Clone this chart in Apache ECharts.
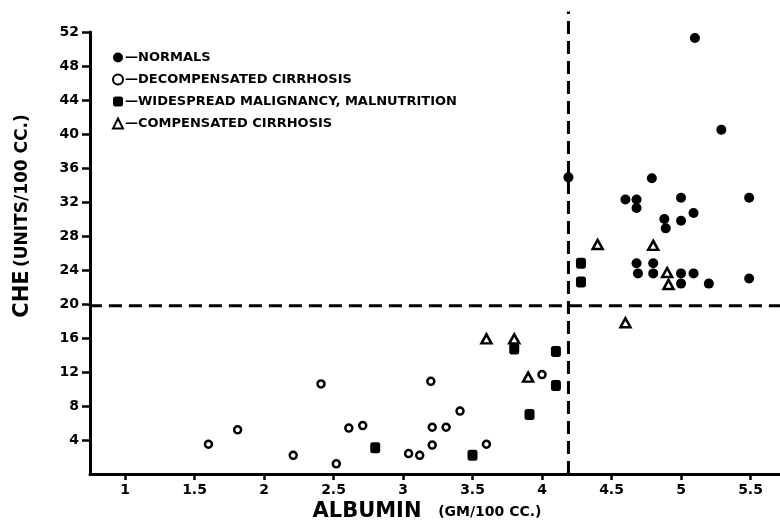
<!DOCTYPE html>
<html>
<head>
<meta charset="utf-8">
<script src="https://cdn.jsdelivr.net/npm/echarts@6/dist/echarts.min.js"></script>
<style>
  html, body { margin: 0; padding: 0; background: #fff; }
  #chart { width: 780px; height: 521px; }
</style>
</head>
<body>
<div id="chart"></div>
<script>
// ---- data (albumin gm/100cc, CHE units/100cc) ----
const seriesNames = [
  'NORMALS',
  'DECOMPENSATED CIRRHOSIS',
  'WIDESPREAD MALIGNANCY, MALNUTRITION',
  'COMPENSATED CIRRHOSIS'
];
const normals = [
  [5.1, 51.3], [5.29, 40.5], [4.19, 34.9], [4.79, 34.8], [4.6, 32.3], [4.68, 32.3],
  [4.68, 31.3], [5.0, 32.5], [5.49, 32.5], [5.09, 30.7], [4.88, 30.0], [5.0, 29.8],
  [4.89, 28.9], [4.68, 24.8], [4.8, 24.8], [4.69, 23.6], [4.8, 23.6], [5.0, 23.6],
  [5.09, 23.6], [5.0, 22.4], [5.2, 22.4], [5.49, 23.0]
];
const decompensated = [
  [1.6, 3.5], [1.81, 5.2], [2.21, 2.2], [2.41, 10.6], [2.52, 1.2], [2.61, 5.4],
  [2.71, 5.7], [3.04, 2.4], [3.12, 2.2], [3.21, 3.4], [3.21, 5.5], [3.31, 5.5],
  [3.41, 7.4], [3.2, 10.9], [3.6, 3.5], [4.0, 11.7]
];
const malignancy = [
  [4.28, 24.8], [4.28, 22.6], [3.8, 14.7], [4.1, 14.4], [4.1, 10.4], [3.91, 7.0],
  [3.5, 2.2], [2.8, 3.1]
];
const compensated = [
  [4.4, 27.0], [4.8, 26.9], [4.9, 23.7], [4.91, 22.3], [4.6, 17.8], [3.6, 15.9],
  [3.8, 15.9], [3.9, 11.4]
];
const xTicks = [1, 1.5, 2, 2.5, 3, 3.5, 4, 4.5, 5, 5.5];
const yTicks = [4, 8, 12, 16, 20, 24, 28, 32, 36, 40, 44, 48, 52];
const albuminCut = 4.19;
const cheCut = 19.8;
const vLineTop = 54.4;

const FONT = 'DejaVu Sans';
const INK = '#000';

const chart = echarts.init(document.getElementById('chart'), null, { renderer: 'canvas' });

const option = {
  backgroundColor: '#fff',
  animation: false,
  grid: { left: 90, right: 0, top: 32, bottom: 47, containLabel: false },
  legend: {
    orient: 'vertical',
    left: 107,
    top: 46,
    itemWidth: 10,
    itemHeight: 10,
    itemGap: 9,
    data: seriesNames,
    formatter: n => '\u2014' + n,
    textStyle: { fontFamily: FONT, fontWeight: 'bold', fontSize: 13, color: INK, padding: [0, 0, 0, -3] }
  },
  xAxis: {
    type: 'value',
    min: 0.748,
    max: 5.712,
    splitLine: { show: false },
    axisLine: { show: true, onZero: false, lineStyle: { color: INK, width: 3 } },
    axisTick: { show: true, customValues: xTicks, length: 6, lineStyle: { color: INK, width: 2.5 } },
    axisLabel: {
      customValues: xTicks,
      margin: 9,
      formatter: v => String(v),
      fontFamily: FONT, fontWeight: 'bold', fontSize: 14, color: INK
    }
  },
  yAxis: {
    type: 'value',
    min: 0,
    max: 52,
    splitLine: { show: false },
    axisLine: { show: true, onZero: false, lineStyle: { color: INK, width: 3 } },
    axisTick: { show: true, customValues: yTicks, length: 8, lineStyle: { color: INK, width: 2.5 } },
    axisLabel: {
      customValues: yTicks,
      margin: 11,
      fontFamily: FONT, fontWeight: 'bold', fontSize: 14, color: INK
    }
  },
  graphic: [
    {
      type: 'text',
      x: 23, y: 216,
      rotation: Math.PI / 2,
      style: {
        text: '{a|CHE} {b|(UNITS/100 CC.)}',
        align: 'center',
        verticalAlign: 'middle',
        fill: INK,
        rich: {
          a: { fontFamily: FONT, fontWeight: 'bold', fontSize: 21, fill: INK },
          b: { fontFamily: FONT, fontWeight: 'bold', fontSize: 17, fill: INK }
        }
      }
    },
    {
      type: 'text',
      x: 427, y: 512,
      style: {
        text: '{a|ALBUMIN}     {b|(GM/100 CC.)}',
        align: 'center',
        verticalAlign: 'middle',
        fill: INK,
        rich: {
          a: { fontFamily: FONT, fontWeight: 'bold', fontSize: 21, fill: INK },
          b: { fontFamily: FONT, fontWeight: 'bold', fontSize: 14, fill: INK }
        }
      }
    }
  ],
  series: [
    {
      name: 'cut-albumin', type: 'line', clip: false, silent: true, symbol: 'none',
      data: [[albuminCut, 0], [albuminCut, vLineTop]],
      lineStyle: { color: INK, width: 3, type: [13, 7] }
    },
    {
      name: 'cut-che', type: 'line', clip: false, silent: true, symbol: 'none',
      data: [[0.74, cheCut], [5.712, cheCut]],
      lineStyle: { color: INK, width: 3, type: [13, 7] }
    },
    {
      name: seriesNames[0], type: 'scatter', data: normals,
      symbol: 'circle', symbolSize: 10,
      itemStyle: { color: INK, opacity: 1 }
    },
    {
      name: seriesNames[1], type: 'scatter', data: decompensated,
      symbol: 'circle', symbolSize: 7,
      itemStyle: { color: '#fff', borderColor: INK, borderWidth: 2.5, opacity: 1 }
    },
    {
      name: seriesNames[2], type: 'scatter', data: malignancy,
      symbol: 'roundRect', symbolSize: [10, 11],
      itemStyle: { color: INK, opacity: 1 }
    },
    {
      name: seriesNames[3], type: 'scatter', data: compensated,
      symbol: 'triangle', symbolSize: [10, 9],
      itemStyle: { color: '#fff', borderColor: INK, borderWidth: 2.5, opacity: 1 }
    }
  ]
};
chart.setOption(option);
</script>
</body>
</html>
